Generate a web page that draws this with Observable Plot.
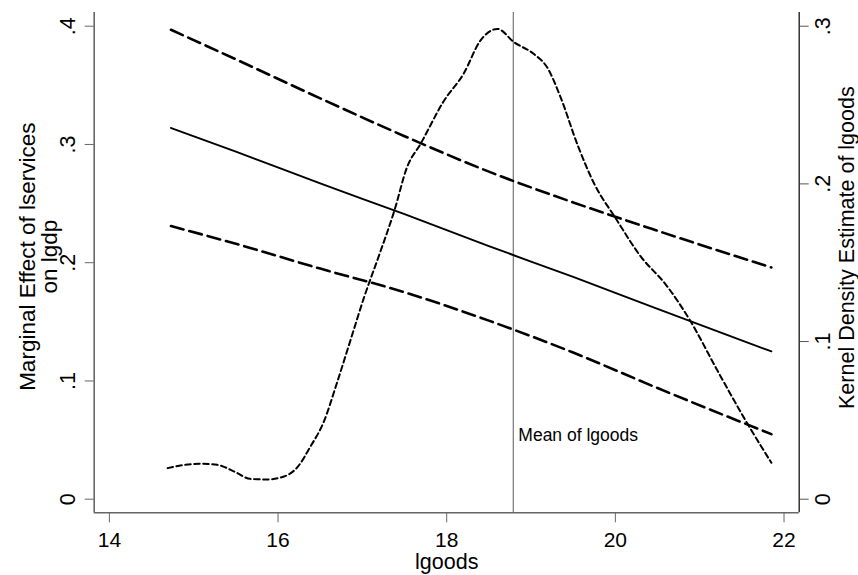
<!DOCTYPE html>
<html><head><meta charset="utf-8">
<script src="https://cdn.jsdelivr.net/npm/d3@7"></script>
<script src="https://cdn.jsdelivr.net/npm/@observablehq/plot@0.6"></script>
<style>
html,body{margin:0;padding:0;background:#fff}
#chart svg{font-family:"Liberation Sans",Arial,Helvetica,sans-serif;display:block}
</style>
</head><body><div id="chart"></div>
<script>
// Marginal effect of lservices on lgdp, with 95% CI, along lgoods
const lgoodsGrid     = [14.73, 15.5, 16.5, 17.5, 18.5, 19.5, 20.5, 21.85];
const marginalEffect = [0.314, 0.294, 0.267, 0.241, 0.214, 0.188, 0.161, 0.125];
const ciLower        = [0.231, 0.216, 0.195, 0.175, 0.151, 0.124, 0.094, 0.055];
const ciUpper        = [0.397, 0.372, 0.339, 0.307, 0.277, 0.251, 0.227, 0.196];

// Kernel density estimate of lgoods (right axis)
const kdeX       = [14.69, 14.9, 15.08, 15.28, 15.5, 15.67, 15.87, 16.07, 16.23, 16.38, 16.54, 16.7, 16.86, 17.02, 17.2, 17.38, 17.53, 17.69, 17.97, 18.2, 18.4, 18.6, 18.8, 19.03, 19.19, 19.35, 19.55, 19.75, 20.0, 20.3, 20.6, 20.89, 21.21, 21.58, 21.85];
const kdeDensity = [0.0197, 0.0218, 0.0225, 0.0218, 0.0170, 0.0129, 0.0125, 0.0144, 0.0203, 0.0330, 0.0488, 0.074, 0.101, 0.128, 0.155, 0.1831, 0.2106, 0.2254, 0.2529, 0.2698, 0.2909, 0.2983, 0.2898, 0.2825, 0.274, 0.255, 0.225, 0.200, 0.1785, 0.154, 0.136, 0.113, 0.0816, 0.0467, 0.0231];

const meanLgoods = [18.79];
const meanLabel = ["Mean of lgoods"];

const xTicks = [14, 16, 18, 20, 22];
const leftTicks = [0, 0.1, 0.2, 0.3, 0.4];
const leftTickLabels = ["0", ".1", ".2", ".3", ".4"];
const rightTicks = [0, 0.1, 0.2, 0.3];
const rightTickLabels = ["0", ".1", ".2", ".3"];

const xTitle = "lgoods";
const yLeftTitle = "Marginal Effect of lservices\non lgdp";
const yRightTitle = "Kernel Density Estimate of lgoods";

// right axis (density) 0..0.3 spans the same height as left axis 0..0.4
const k = 0.4 / 0.3;
const xDomain = [13.82, 22.18];
const yDomain = [-0.0115, 0.4116];

const ci = lgoodsGrid.map((x, i) => ({x, me: marginalEffect[i], lo: ciLower[i], hi: ciUpper[i]}));
const kde = kdeX.map((x, i) => ({x, y: kdeDensity[i] * k}));

const T = {textAnchor: "middle", lineAnchor: "middle", fill: "#000"};

const chart = Plot.plot({
  width: 858,
  height: 575,
  marginLeft: 93.7,
  marginRight: 59.3,
  marginTop: 12,
  marginBottom: 62.7,
  x: {domain: xDomain},
  y: {domain: yDomain},
  style: {background: "#fff", fontFamily: "'Liberation Sans', Arial, sans-serif"},
  marks: [
    // frame lines
    Plot.ruleX([xDomain[0]], {stroke: "#666", strokeWidth: 1.6}),
    Plot.ruleX([xDomain[1]], {stroke: "#222", strokeWidth: 1.4}),
    Plot.ruleY([yDomain[0]], {stroke: "#666", strokeWidth: 1.6}),
    // axes ticks
    Plot.axisX({ticks: xTicks, tickSize: 10, tickPadding: 9, fontSize: 21, stroke: "#666", label: null, tickFormat: d => String(d), color: "#000"}),
    Plot.axisY({ticks: leftTicks, tickSize: 9, tickFormat: () => "", label: null, stroke: "#666"}),
    Plot.axisY({anchor: "right", ticks: rightTicks.map(t => t * k), tickSize: 9, tickFormat: () => "", label: null, stroke: "#555"}),
    // rotated tick labels
    Plot.text(leftTicks, {...T, y: d => d, text: (d, i) => leftTickLabels[i], frameAnchor: "left", dx: -26, rotate: -90, fontSize: 21.5}),
    Plot.text(rightTicks, {...T, y: d => d * k, text: (d, i) => rightTickLabels[i], frameAnchor: "right", dx: 23.5, rotate: -90, fontSize: 21.5}),
    // axis titles
    Plot.text([yLeftTitle], {...T, text: d => d, frameAnchor: "left", dx: -55, dy: -6, rotate: -90, fontSize: 22.5, lineHeight: 0.97}),
    Plot.text([yRightTitle], {...T, text: d => d, frameAnchor: "right", dx: 47.5, dy: -15, rotate: -90, fontSize: 21.5}),
    Plot.text([xTitle], {...T, text: d => d, frameAnchor: "bottom", dy: 49.5, fontSize: 21.5}),
    // mean line
    Plot.ruleX(meanLgoods, {stroke: "#808080", strokeWidth: 1.3}),
    Plot.text(meanLabel, {x: meanLgoods[0], y: 0.054, text: d => d, textAnchor: "start", dx: 5, fontSize: 17.5, fill: "#000"}),
    // kernel density
    Plot.line(kde, {x: "x", y: "y", curve: "monotone-x", stroke: "#000", strokeWidth: 2, strokeDasharray: "5.5,3.5"}),
    // confidence bounds
    Plot.line(ci, {x: "x", y: "lo", curve: "monotone-x", stroke: "#000", strokeWidth: 2.6, strokeDasharray: "13,6"}),
    Plot.line(ci, {x: "x", y: "hi", curve: "monotone-x", stroke: "#000", strokeWidth: 2.6, strokeDasharray: "13,6"}),
    // marginal effect
    Plot.line(ci, {x: "x", y: "me", curve: "monotone-x", stroke: "#000", strokeWidth: 1.9})
  ]
});
document.getElementById("chart").appendChild(chart);
</script>
</body></html>
